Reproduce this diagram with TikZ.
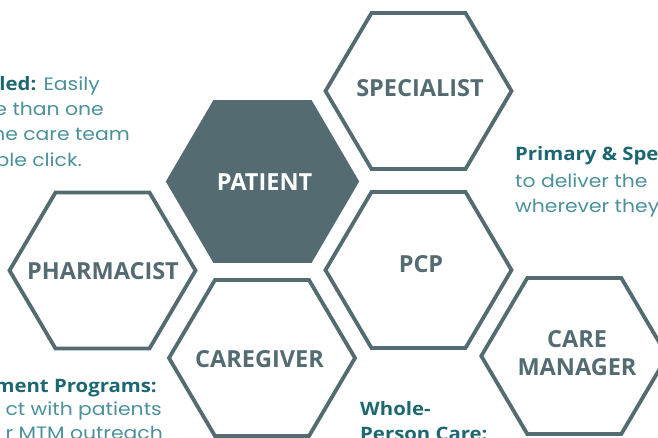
\documentclass[tikz,border=0pt]{standalone}
\usepackage{fontspec}
\setmainfont{Open Sans}
\newfontfamily\bodyfont{Poppins}[FakeStretch=1.13]
\newfontfamily\headfont{Open Sans}[FakeStretch=1.1]
\newfontfamily\labelfont{Open Sans}
\definecolor{hexc}{HTML}{546B72}
\definecolor{headc}{HTML}{1D6770}
\definecolor{bodyc}{HTML}{4A919A}
\tikzset{
  hexline/.style={draw=hexc, line width=3.8pt, line join=miter},
  hexfill/.style={fill=hexc, draw=hexc, line width=3.8pt, line join=miter},
  hexagon/.pic={\path[pic actions] (-93,0) -- (-47,-78) -- (47,-78) -- (93,0) -- (47,78) -- (-47,78) -- cycle;},
  bighex/.pic={\path[pic actions] (-94.5,0) -- (-48,-79.5) -- (48,-79.5) -- (94.5,0) -- (48,79.5) -- (-48,79.5) -- cycle;},
  hexlabel/.style={font=\labelfont\bfseries\fontsize{23.5}{28}\selectfont, text=hexc, align=center, inner sep=0pt},
  bodytext/.style={font=\bodyfont\fontsize{18}{25}\selectfont, text=bodyc, inner sep=0pt},
  headtext/.style={font=\headfont\bfseries\fontsize{18.5}{25}\selectfont, text=headc, inner sep=0pt},
}
\newcommand\hd[1]{{\headfont\bfseries\fontsize{18.5}{25}\selectfont\color{headc}#1}}
\begin{document}
\begin{tikzpicture}[x=1pt,y=-1pt]
\useasboundingbox (0,0) rectangle (658,437);
\clip (0,0) rectangle (658,437);
% hexagons
\pic[hexfill] at (262.5,181.5) {bighex};
\pic[hexline] at (418.5,91) {hexagon};
\pic[hexline] at (418.5,270) {hexagon};
\pic[hexline] at (102.5,270.5) {hexagon};
\pic[hexline] at (262,358) {hexagon};
\pic[hexline] at (574.3,356) {hexagon};
% labels
\node[hexlabel, text=white] (patient) at (264.5,182) {PATIENT};
\node[hexlabel] (specialist) at (420,88) {SPECIALIST};
\node[hexlabel] (pcp) at (421,264) {PCP};
\node[hexlabel] (pharmacist) at (103,271) {PHARMACIST};
\node[hexlabel] (caregiver) at (259.5,359) {CAREGIVER};
\node[hexlabel] (caremanager) at (577,353) {CARE\\MANAGER};
% left top text
\node[bodytext, anchor=base east] (lt1) at (100,90) {\hd{led:} Easily};
\node[bodytext, anchor=base east] (lt2) at (104,115) {e than one};
\node[bodytext, anchor=base east] (lt3) at (130,140.5) {he care team};
\node[bodytext, anchor=base east] (lt4) at (82,166) {ple click.};
% left bottom text
\node[headtext, anchor=base east] (lb1) at (157,392) {ment Programs:};
\node[bodytext, anchor=base east] (lb2) at (162,415) {ct with patients};
\node[bodytext, anchor=base east] (lb3) at (163,439) {r MTM outreach};
% right text
\node[headtext, anchor=base west] (r1) at (515,160) {Primary \& Spe};
\node[bodytext, anchor=base west] (r2) at (515,187) {to deliver the};
\node[bodytext, anchor=base west] (r3) at (515,212) {wherever they};
% bottom middle text
\node[headtext, anchor=base west] (w1) at (360,415) {Whole-};
\node[headtext, anchor=base west] (w2) at (360,440) {Person Care:};
\end{tikzpicture}
\end{document}
